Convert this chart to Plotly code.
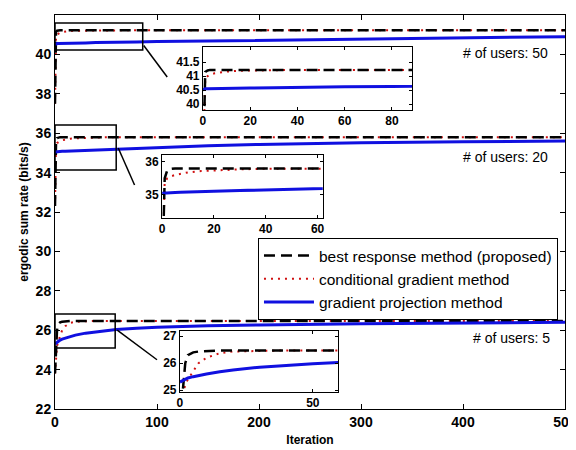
import plotly.graph_objects as go

# ---------------- data ----------------
iters = [0, 1, 2, 3, 5, 7, 10, 15, 20, 30, 40, 50, 60, 80, 100, 150, 200, 300, 400, 500]

# 50 users
br50 = [37.5, 41.15, 41.2, 41.22, 41.22, 41.22, 41.22, 41.22, 41.22, 41.22,
        41.22, 41.22, 41.22, 41.22, 41.22, 41.22, 41.22, 41.22, 41.22, 41.22]
cg50 = [37.5, 40.9, 41.0, 41.05, 41.1, 41.13, 41.16, 41.19, 41.2, 41.21,
        41.22, 41.22, 41.22, 41.22, 41.22, 41.22, 41.22, 41.22, 41.22, 41.22]
gp50 = [40.5, 40.55, 40.55, 40.55, 40.55, 40.55, 40.56, 40.56, 40.57, 40.58,
        40.6, 40.6, 40.62, 40.63, 40.65, 40.68, 40.72, 40.8, 40.86, 40.9]

# 20 users
br20 = [32.3, 35.5, 35.75, 35.78, 35.8, 35.8, 35.8, 35.8, 35.8, 35.8,
        35.8, 35.8, 35.8, 35.8, 35.8, 35.8, 35.8, 35.8, 35.8, 35.8]
cg20 = [32.3, 35.4, 35.5, 35.55, 35.6, 35.64, 35.68, 35.72, 35.74, 35.77,
        35.79, 35.8, 35.8, 35.8, 35.8, 35.8, 35.8, 35.8, 35.8, 35.8]
gp20 = [35.05, 35.05, 35.06, 35.06, 35.07, 35.08, 35.09, 35.1, 35.11, 35.13,
        35.15, 35.17, 35.2, 35.24, 35.28, 35.36, 35.43, 35.52, 35.57, 35.6]

# 5 users
br5 = [23.8, 25.0, 26.0, 26.3, 26.4, 26.43, 26.45, 26.47, 26.47, 26.47,
       26.47, 26.47, 26.47, 26.47, 26.47, 26.47, 26.47, 26.47, 26.47, 26.47]
cg5 = [23.8, 24.8, 25.2, 25.4, 25.7, 26.0, 26.2, 26.37, 26.43, 26.46,
       26.47, 26.47, 26.47, 26.47, 26.47, 26.47, 26.47, 26.47, 26.47, 26.47]
gp5 = [25.3, 25.35, 25.4, 25.45, 25.5, 25.55, 25.6, 25.68, 25.75, 25.85,
       25.92, 25.98, 26.03, 26.1, 26.15, 26.22, 26.27, 26.33, 26.37, 26.4]

names = ["best response method (proposed)", "conditional gradient method",
         "gradient projection method"]
user_labels = ["# of users: 50", "# of users: 20", "# of users: 5"]

x_ticks = [0, 100, 200, 300, 400, 500]
y_ticks = [22, 24, 26, 28, 30, 32, 34, 36, 38, 40, 42]

# ---------------- figure ----------------
FONT = "Liberation Sans"
fig = go.Figure()

styles = [
    dict(color="black", width=2.5, dash="11px,6px"),
    dict(color="#d01010", width=2, dash="2px,5px"),
    dict(color="#1010e0", width=3, dash="solid"),
]

groups = [(br50, cg50, gp50), (br20, cg20, gp20), (br5, cg5, gp5)]
inset_axes = [("x2", "y2"), ("x3", "y3"), ("x4", "y4")]

for gi, grp in enumerate(groups):
    for axes in [("x", "y"), inset_axes[gi]]:
        # draw red first so black dashes sit on top, then blue
        for si in [1, 0, 2]:
            fig.add_trace(go.Scatter(
                x=iters, y=grp[si], mode="lines", name=names[si],
                line=styles[si], xaxis=axes[0], yaxis=axes[1],
                showlegend=(gi == 0 and axes[0] == "x"),
                legendrank=si + 1, cliponaxis=True))

tickfont = dict(family=FONT, size=14, color="black", weight="bold")
inset_tickfont = dict(family=FONT, size=12, color="black", weight="bold")

base = dict(showline=True, linecolor="black", linewidth=1, mirror="ticks",
            ticks="inside", tickcolor="black", showgrid=False,
            zeroline=False, automargin=False)

# the page body adds an 8px offset; size and margins compensate for it
fig.update_layout(
    width=568, height=442,
    margin=dict(l=47, r=11, t=7, b=41, autoexpand=False),
    paper_bgcolor="white", plot_bgcolor="white",
    font=dict(family=FONT, color="black"),
    xaxis=dict(range=[0, 500], tickvals=x_ticks, tickfont=tickfont, ticklen=5,
               ticklabeloverflow="allow",
               title=dict(text="Iteration", font=dict(family=FONT, size=12, weight="bold"),
                          standoff=6),
               **base),
    yaxis=dict(range=[22, 42], tickvals=y_ticks, tickfont=tickfont, ticklen=5,
               title=dict(text="ergodic sum rate (bits/s)",
                          font=dict(family=FONT, size=12, weight="bold"), standoff=4),
               **base),
    # inset 1 (50 users)
    xaxis2=dict(domain=[0.290, 0.700], anchor="y2", range=[0, 88.5],
                tickvals=[0, 20, 40, 60, 80], tickfont=inset_tickfont, ticklen=3, **base),
    yaxis2=dict(domain=[0.759, 0.919], anchor="x2", range=[39.79, 42.04],
                tickvals=[40, 40.5, 41, 41.5], ticktext=["40", "40.5", "41", "41.5"],
                tickfont=inset_tickfont, ticklen=3, **base),
    # inset 2 (20 users)
    xaxis3=dict(domain=[0.210, 0.525], anchor="y3", range=[0, 62],
                tickvals=[0, 20, 40, 60], tickfont=inset_tickfont, ticklen=3, **base),
    yaxis3=dict(domain=[0.485, 0.645], anchor="x3", range=[34.3, 36.21],
                tickvals=[35, 36], tickfont=inset_tickfont, ticklen=3, **base),
    # inset 3 (5 users)
    xaxis4=dict(domain=[0.245, 0.555], anchor="y4", range=[0, 59.5],
                tickvals=[0, 50], tickfont=inset_tickfont, ticklen=3, **base),
    yaxis4=dict(domain=[0.043, 0.198], anchor="x4", range=[24.93, 27.19],
                tickvals=[25, 26, 27], tickfont=inset_tickfont, ticklen=3, **base),
    legend=dict(x=0.398, y=0.434, xanchor="left", yanchor="top",
                bgcolor="white", bordercolor="black", borderwidth=1,
                font=dict(family=FONT, size=15.5, color="black"),
                tracegroupgap=0, itemwidth=50),
)

# zoom rectangles and connector lines (main data coordinates)
zoom_boxes = [(0, 86, 40.22, 41.6), (0, 60, 34.13, 36.42), (0, 59, 25.1, 26.82)]
connectors = [((87, 40.45), (110, 38.85)), ((62, 35.25), (78, 33.37)),
              ((61, 26.0), (100, 24.5))]
for (x0, x1, y0, y1) in zoom_boxes:
    fig.add_shape(type="rect", xref="x", yref="y", x0=x0, x1=x1, y0=y0, y1=y1,
                  line=dict(color="black", width=1.5), layer="above")
for (p0, p1) in connectors:
    fig.add_shape(type="line", xref="x", yref="y", x0=p0[0], y0=p0[1],
                  x1=p1[0], y1=p1[1], line=dict(color="black", width=1.5))

label_pos = [(485, 40.07), (485, 34.8), (487, 25.6)]
for txt, (lx, ly) in zip(user_labels, label_pos):
    fig.add_annotation(x=lx, y=ly, xref="x", yref="y", text=txt, showarrow=False,
                       xanchor="right", yanchor="middle",
                       font=dict(family=FONT, size=14, color="black"))

fig.write_html("out.html")
